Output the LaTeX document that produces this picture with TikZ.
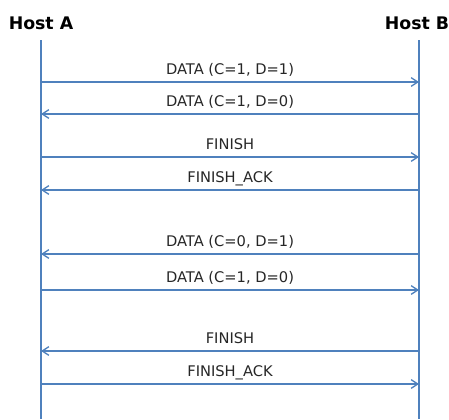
\documentclass[tikz,border=0pt]{standalone}
\usepackage{fontspec}
\setmainfont{DejaVu Sans}
\usepackage{xcolor}
\usepackage{tikz}
\usetikzlibrary{arrows.meta}

\definecolor{lineblue}{HTML}{4F81BD}

\begin{document}
\begin{tikzpicture}[
		x=0.75pt,y=-0.75pt,
		host/.style={font=\fontsize{13}{15}\selectfont\bfseries,anchor=base,inner sep=0pt},
		lifeline/.style={lineblue,line width=1.1pt},
		msg/.style={lineblue,line width=1pt,-{Straight Barb[length=5pt,width=6.5pt]}},
		msg text/.style={font=\fontsize{11}{13}\selectfont,anchor=base,inner sep=0pt,yshift=6pt,text=black!85}
	]
		\useasboundingbox (0,0) rectangle (449,419);

		% Both hosts with their time lines.
		\node[host] (hostA) at (41,29) {Host A};
		\node[host] (hostB) at (417,29) {Host B};
		\coordinate (Atop) at (41,40);
		\coordinate (Abot) at (41,419);
		\coordinate (Btop) at (419,40);
		\coordinate (Bbot) at (419,419);
		\draw[lifeline] (Atop) -- (Abot);
		\draw[lifeline] (Btop) -- (Bbot);

		% Points where each message leaves or reaches a time line.
		\foreach \n/\y in {1/82,2/114,3/157,4/190,5/254,6/290,7/351,8/384}{
			\coordinate (A\n) at (41,\y);
			\coordinate (B\n) at (419,\y);
		}

		% First exchange.
		\draw[msg] (A1) -- node[msg text] {DATA (C=1, D=1)} (B1);
		\draw[msg] (B2) -- node[msg text] {DATA (C=1, D=0)} (A2);
		\draw[msg] (A3) -- node[msg text] {FINISH} (B3);
		\draw[msg] (B4) -- node[msg text] {FINISH\_ACK} (A4);

		% Second exchange.
		\draw[msg] (B5) -- node[msg text] {DATA (C=0, D=1)} (A5);
		\draw[msg] (A6) -- node[msg text] {DATA (C=1, D=0)} (B6);
		\draw[msg] (B7) -- node[msg text] {FINISH} (A7);
		\draw[msg] (A8) -- node[msg text] {FINISH\_ACK} (B8);
	\end{tikzpicture}
\end{document}
